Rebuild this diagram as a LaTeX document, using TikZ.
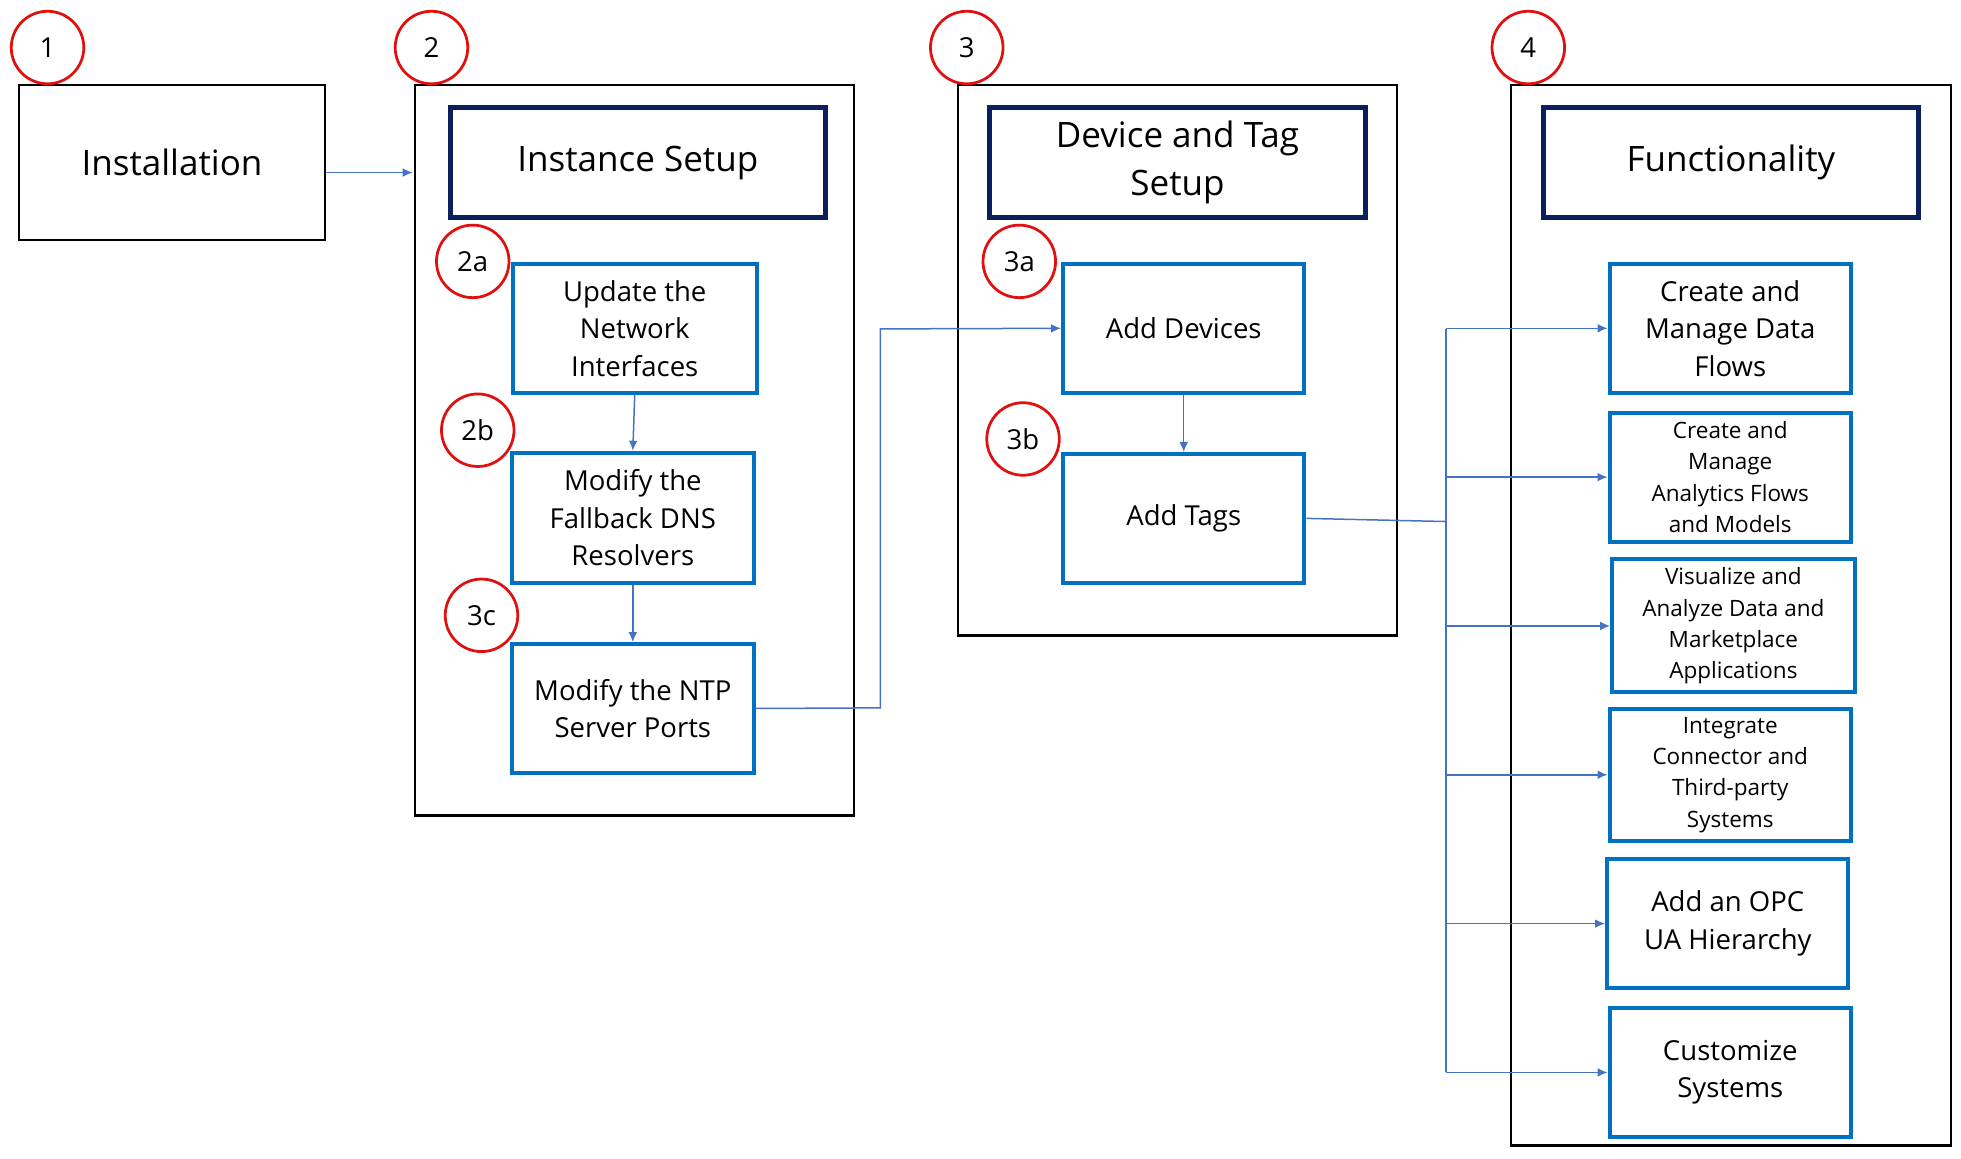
\documentclass[tikz,border=0pt]{standalone}
\usepackage{fontspec}
\setmainfont{Open Sans}
\usetikzlibrary{arrows.meta}
\definecolor{navy}{HTML}{0B1F5C}
\definecolor{bblue}{HTML}{0070C0}
\definecolor{lblue}{HTML}{4472C4}
\definecolor{cred}{HTML}{E01010}
\begin{document}
\begin{tikzpicture}[x=0.5pt,y=-0.5pt,
  num/.style={circle,draw=cred,line width=1.1pt,minimum size=29pt,inner sep=0pt,font=\fontsize{11}{13}\selectfont},
  cont/.style={draw=black,line width=1pt},
  hdr/.style={draw=navy,line width=2pt,align=center,font=\fontsize{14}{19}\selectfont},
  sbox/.style={draw=bblue,line width=1.6pt,align=center,font=\fontsize{11}{15}\selectfont},
  tbox/.style={draw=bblue,line width=1.6pt,align=center,font=\fontsize{9}{12.5}\selectfont},
  conn/.style={draw=lblue,line width=0.6pt,-{Latex[length=4pt,width=3.5pt]}},
  ln/.style={draw=lblue,line width=0.6pt}]
\useasboundingbox (0,0) rectangle (1568,926);
\newcommand{\bx}[5]{\node[#1,minimum width={(#4-#2)*0.5pt},minimum height={(#5-#3)*0.5pt},inner sep=1pt] (#1X) at ({(#2+#4)/2},{(#3+#5)/2}) {};}
% containers
\draw[cont] (332,68) rectangle (683,652);
\draw[cont] (766,68) rectangle (1117,508);
\draw[cont] (1208,68) rectangle (1560,916);
% nodes
\node[draw=black,line width=1pt,minimum width=122.5pt,minimum height=62pt,font=\fontsize{14}{19}\selectfont] (inst) at (137.5,130) {Installation};
\node[hdr,minimum width=150pt,minimum height=44pt] (h2) at (510,130) {Instance Setup};
\node[hdr,minimum width=150.5pt,minimum height=44pt] (h3) at (941.5,130) {Device and Tag\\Setup};
\node[hdr,minimum width=150pt,minimum height=44pt] (h4) at (1384,130) {Functionality};
\node[sbox,minimum width=97.5pt,minimum height=51.5pt] (a2) at (507.5,262.5) {Update the\\Network\\Interfaces};
\node[sbox,minimum width=97pt,minimum height=52pt] (b2) at (506,414) {Modify the\\Fallback DNS\\Resolvers};
\node[sbox,minimum width=97pt,minimum height=51.5pt] (c2) at (506,566.5) {Modify the NTP\\Server Ports};
\node[sbox,minimum width=96.5pt,minimum height=51.5pt] (a3) at (946.5,262.5) {Add Devices};
\node[sbox,minimum width=96.5pt,minimum height=51.5pt] (b3) at (946.5,414.5) {Add Tags};
\node[sbox,minimum width=96.5pt,minimum height=51.5pt] (f1) at (1383.5,262.5) {Create and\\Manage Data\\Flows};
\node[tbox,minimum width=96.5pt,minimum height=51.5pt] (f2) at (1383.5,381.5) {Create and\\Manage\\Analytics Flows\\and Models};
\node[tbox,minimum width=97pt,minimum height=51.5pt] (f3) at (1386,500.5) {Visualize and\\Analyze Data and\\Marketplace\\Applications};
\node[tbox,minimum width=96.5pt,minimum height=51.5pt] (f4) at (1383.5,619.5) {Integrate\\Connector and\\Third-party\\Systems};
\node[sbox,minimum width=96.5pt,minimum height=51.5pt] (f5) at (1381.5,738.5) {Add an OPC\\UA Hierarchy};
\node[sbox,minimum width=96.5pt,minimum height=51.5pt] (f6) at (1383.5,857.5) {Customize\\Systems};
% circles
\node[num] (n1) at (38,38) {1};
\node[num] (n2) at (345,38) {2};
\node[num] (n3) at (773,38) {3};
\node[num] (n4) at (1222,38) {4};
\node[num] (n2a) at (378,209) {2a};
\node[num] (n2b) at (382,344) {2b};
\node[num] (n3c) at (385,492) {3c};
\node[num] (n3a) at (815,209) {3a};
\node[num] (n3b) at (818,351) {3b};
% connectors
\coordinate (ie) at (330,138);
\draw[conn] (inst.east |- ie) -- (ie);
\draw[conn] (a2.south) -- (b2.north);
\draw[conn] (b2.south) -- (c2.north);
\draw[conn] (c2.east) -- (704,566) -- (704,263) -- (a3.west);
\draw[conn] (a3.south) -- (b3.south |- b3.north);
\coordinate (bus) at (1156,417);
\draw[ln] (b3.east) -- (bus);
\draw[ln] (1156,263) -- (1156,857.5);
\foreach \f in {f1,f2,f3,f4,f5,f6}{\draw[conn] (1156,0 |- \f.west) -- (\f.west);}
\end{tikzpicture}
\end{document}
